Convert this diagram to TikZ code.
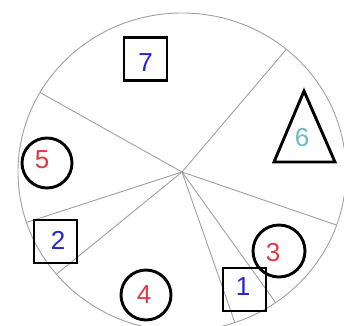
\documentclass[tikz,border=0pt]{standalone}
\usepackage{fontspec}
\setmainfont{Liberation Sans}
\usetikzlibrary{calc}
\definecolor{spoke}{HTML}{A0A0A0}
\definecolor{numred}{HTML}{E03A48}
\definecolor{numblue}{HTML}{2424C8}
\definecolor{numteal}{HTML}{6ABCBC}
\begin{document}
\begin{tikzpicture}[x=1pt,y=1pt,
  grey/.style={draw=spoke,line width=0.9pt},
  sq/.style={draw=black,line width=2.9pt,minimum width=43pt,minimum height=43pt,inner sep=0pt},
  rnd/.style={circle,draw=black,line width=2.9pt,inner sep=0pt},
  num/.style={font=\fontsize{26}{26}\selectfont,inner sep=0pt}]
\useasboundingbox (0,0) rectangle (344,325);
\fill[white] (0,0) rectangle (344,325);
\begin{scope}
\clip (0,0) rectangle (344,325);
\coordinate (c) at (182,153);
\draw[grey] (c) ellipse[x radius=164,y radius=159];
\foreach \a/\n in {50.5/a,150/b,-19.5/c,198.5/d,220/e,288.8/f,-55.2/g}{
  \coordinate (e\n) at ($(c)+({164*cos(\a)},{159*sin(\a)})$);
  \draw[grey] (c) -- (e\n);
}
\end{scope}
% squares
\node[sq] (s7) at (145.5,266) {};
\node[num,text=numblue] (t7) at (145.5,262) {7};
\node[sq] (s2) at (55.5,83.5) {};
\node[num,text=numblue] (t2) at (58,85) {2};
\node[sq] (s1) at (244.5,35.5) {};
\node[num,text=numblue] (t1) at (243,38) {1};
% circles
\node[rnd,minimum size=50pt] (c5) at (47,162) {};
\node[num,text=numred] (t5) at (42,165) {5};
\node[rnd,minimum size=50pt] (c4) at (146,30) {};
\node[num,text=numred] (t4) at (144,30) {4};
\node[rnd,minimum size=52pt] (c3) at (279,74) {};
\node[num,text=numred] (t3) at (273,72) {3};
% triangle
\coordinate (ta) at (304,234);
\coordinate (tb) at (274,163);
\coordinate (tc) at (335,163);
\draw[line width=2.9pt,line join=miter] (ta) -- (tb) -- (tc) -- cycle;
\node[num,text=numteal] (t6) at (302,187) {6};
\end{tikzpicture}
\end{document}
